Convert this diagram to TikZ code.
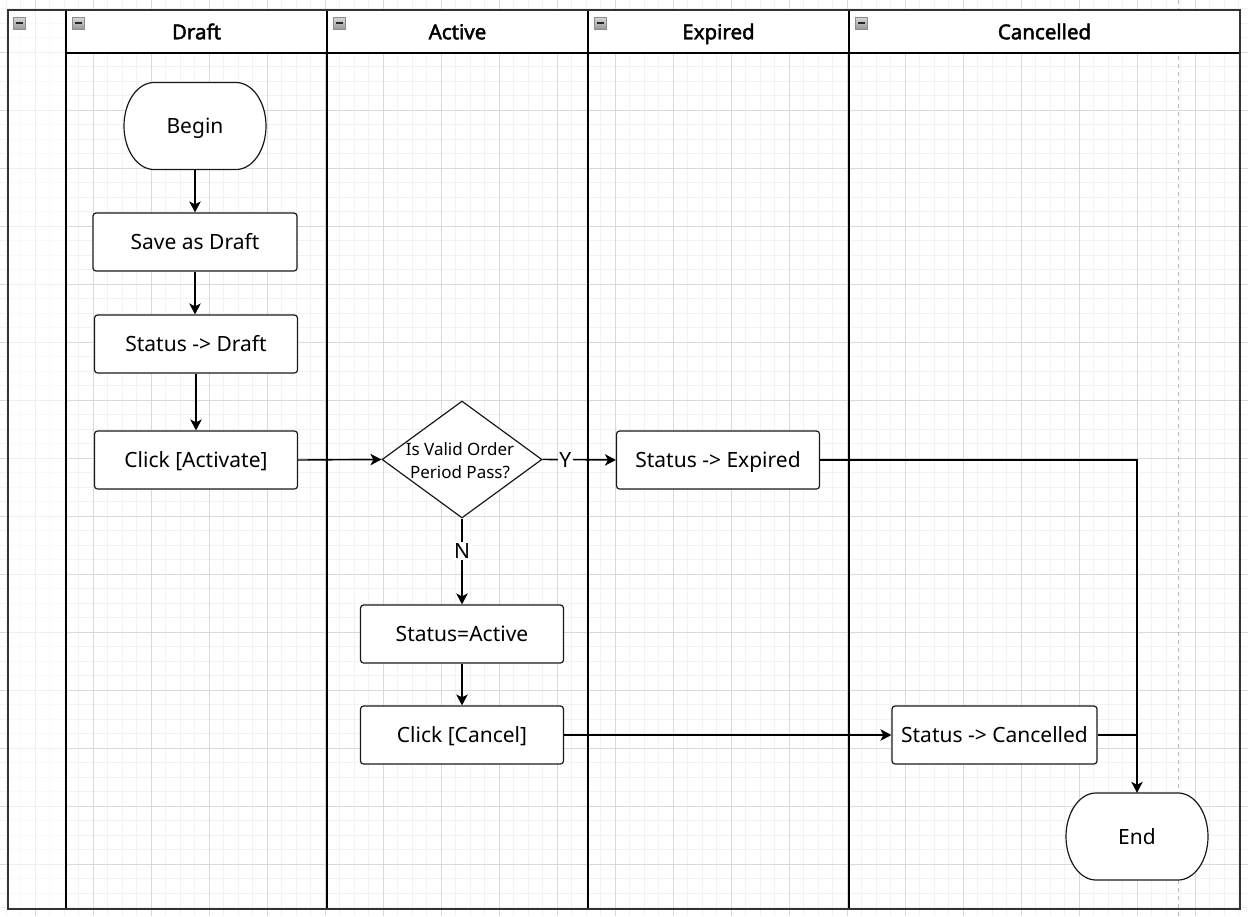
\documentclass[tikz,border=0pt]{standalone}
\usepackage{fontspec}
\setmainfont{Noto Sans}[AutoFakeBold=2.2]
\usetikzlibrary{arrows.meta,shapes.geometric}
\newcommand\myfont{\fontsize{21}{25}\selectfont}
\newcommand\myhfont{\bfseries\fontsize{20.5}{24}\selectfont}
\newcommand\mydfont{\fontsize{17}{23}\selectfont}
\begin{document}
\begin{tikzpicture}[x=1pt,y=-1pt,
  minorgrid/.style={draw=black!5, line width=0.7pt},
  majorgrid/.style={draw=black!15, line width=0.9pt},
  lane/.style={line width=2pt, draw=black},
  proc/.style={draw=black!90, line width=1.2pt, rounded corners=3pt, fill=white,
    minimum width=203pt, minimum height=58pt, inner sep=0pt, font=\myfont,
    text height=15pt, text depth=0pt},
  termtext/.style={minimum width=142pt, minimum height=87pt, inner sep=0pt, font=\myfont,
    text height=15pt, text depth=0pt},
  flow/.style={line width=1.4pt, draw=black, -{Stealth[length=11pt,width=11.5pt,inset=3pt]}},
  plainflow/.style={line width=1.4pt, draw=black},
  edgelabel/.style={fill=white, inner sep=1.5pt, font=\myfont, text height=15pt, text depth=0pt},
  hdr/.style={font=\myhfont, text height=14.5pt, text depth=0pt, inner sep=0pt},
  iconbox/.style={top color=black!15, bottom color=black!40, draw=black!45, line width=0.6pt},
  stadium/.pic={
    \draw[draw=black!90, line width=1.2pt, fill=white]
      (-41,-43.5) -- (41,-43.5) .. controls (57.57,-43.5) and (71,-24.03) .. (71,0)
      .. controls (71,24.03) and (57.57,43.5) .. (41,43.5) -- (-41,43.5)
      .. controls (-57.57,43.5) and (-71,24.03) .. (-71,0)
      .. controls (-71,-24.03) and (-57.57,-43.5) .. (-41,-43.5) -- cycle;
  }
]
\useasboundingbox (0,0) rectangle (1248,916);
\fill[white] (0,0) rectangle (1248,916);
\begin{scope}
\clip (0,0) rectangle (1248,916);
% grid
\foreach \i in {0,...,85} \draw[minorgrid] ({6+14.5*\i},0) -- ++(0,916);
\foreach \j in {0,...,62} \draw[minorgrid] (0,{8.5+14.5*\j}) -- ++(1248,0);
\foreach \i in {0,...,20} \draw[majorgrid] ({35+58*\i},0) -- ++(0,916);
\foreach \j in {0,...,14} \draw[majorgrid] (0,{52+58*\j}) -- ++(1248,0);
% page break line
\draw[black!28, line width=1pt, dash pattern=on 4pt off 4pt] (1178,0) -- (1178,916);
\end{scope}

% pool
\fill[white, opacity=0.6] (8,10) rectangle (66,909);
\fill[white] (66,10) rectangle (1240,53);
\draw[lane] (66,53) -- (1240,53);
\foreach \x in {66,327,588,849} \draw[lane] (\x,10) -- (\x,909);
\draw[line width=2.2pt, draw=black!80] (8,10) rectangle (1240,909);

% collapse icons
\foreach \x in {13,72,333,594,855} {
  \shadedraw[iconbox] (\x,17) rectangle ++(12,12);
  \draw[line width=1.6pt, black!85] ({\x+2.5},23) -- ++(7,0);
}

% headers
\node[hdr] (hdraft) at (196.5,32) {Draft};
\node[hdr] (hactive) at (457.5,32) {Active};
\node[hdr] (hexpired) at (718.5,32) {Expired};
\node[hdr] (hcancelled) at (1044.5,32) {Cancelled};

% nodes
\pic at (195,126) {stadium};
\node[termtext] (begin) at (195,126) {Begin};
\pic at (1137,836.5) {stadium};
\node[termtext] (endn) at (1137,836.5) {End};

\node[proc, minimum width=204pt] (save) at (195,242) {Save as Draft};
\node[proc] (sdraft) at (196,344) {Status -> Draft};
\node[proc] (activate) at (196,460) {Click [Activate]};
\node[diamond, draw=black!90, line width=1.2pt, fill=white, minimum width=160pt,
      minimum height=117pt, inner sep=0pt] (dia) at (462,459.5) {};
\node[font=\mydfont, align=center, inner sep=0pt] (diatext) at (460,461) {Is Valid Order\\Period Pass?};
\node[proc] (sexp) at (718,460) {Status -> Expired};
\node[proc] (sact) at (462,634) {Status=Active};
\node[proc] (cancel) at (462,735) {Click [Cancel]};
\node[proc, minimum width=205pt] (scan) at (994.5,735) {Status -> Cancelled};

% connectors
\draw[flow] (begin.south) -- (save.north);
\draw[flow] (save.south) -- (save.south |- sdraft.north);
\draw[flow] (sdraft.south) -- (activate.north);
\draw[flow] (activate.east) -- (dia.west);
\draw[flow] (dia.east) -- (sexp.west) node[edgelabel, pos=0.31] (ylab) {Y};
\draw[flow] (dia.south) -- (sact.north) node[edgelabel, pos=0.38] (nlab) {N};
\draw[flow] (sact.south) -- (cancel.north);
\draw[flow] (cancel.east) -- (scan.west);
\draw[flow] (sexp.east) -| (endn.north);
\draw[plainflow] (scan.east) -- (scan.east -| endn.north);
\end{tikzpicture}
\end{document}
